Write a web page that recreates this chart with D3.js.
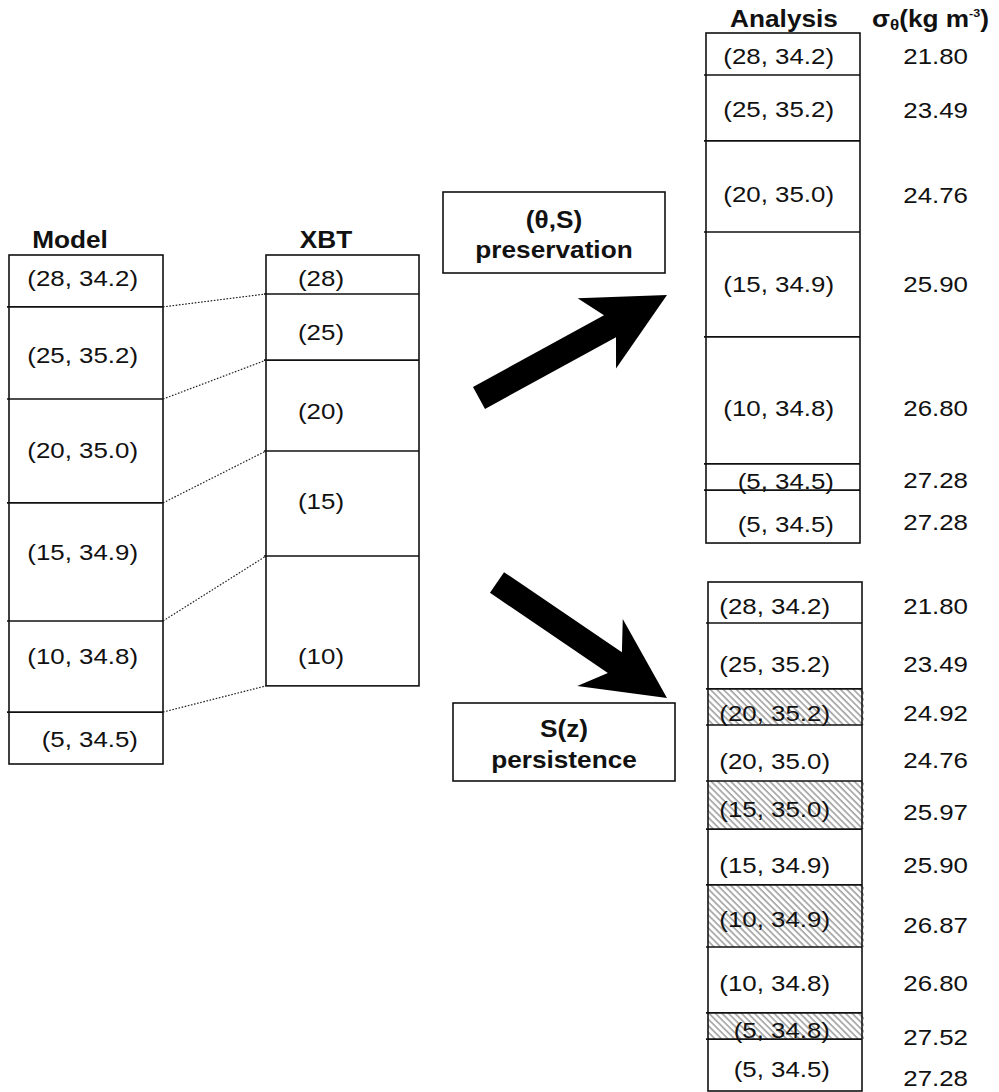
<!DOCTYPE html>
<html>
<head>
<meta charset="utf-8">
<script src="https://cdn.jsdelivr.net/npm/d3@7"></script>
<style>
  html, body { margin: 0; padding: 0; background: #fff; }
  svg { display: block; }
  text { font-family: "Liberation Sans", Arial, Helvetica, sans-serif; fill: #111; }
</style>
</head>
<body>
<svg id="chart" width="999" height="1092"></svg>
<script>
// ---------------- DATA ----------------
// Model layers: temperature (°C), salinity, layer boundaries (relative depth units, 0-200)
const modelT = [28, 25, 20, 15, 10, 5];
const modelS = ["34.2", "35.2", "35.0", "34.9", "34.8", "34.5"];
const modelDepth = [0, 20.4, 56.6, 97.4, 143.8, 179.6, 200];

// XBT layers: temperature only
const xbtT = [28, 25, 20, 15, 10];
const xbtDepth = [0, 15.3, 41.3, 77, 118.3, 169.3];

// Analysis, (theta,S) preservation
const presT = [28, 25, 20, 15, 10, 5, 5];
const presS = ["34.2", "35.2", "35.0", "34.9", "34.8", "34.5", "34.5"];
const presSigma = ["21.80", "23.49", "24.76", "25.90", "26.80", "27.28", "27.28"];
const presDepth = [0, 16.5, 42.4, 78.2, 119.4, 169.3, 179.6, 200.4];

// Analysis, S(z) persistence
const persT = [28, 25, 20, 20, 15, 15, 10, 10, 5, 5];
const persS = ["34.2", "35.2", "35.2", "35.0", "35.0", "34.9", "34.9", "34.8", "34.8", "34.5"];
const persSigma = ["21.80", "23.49", "24.92", "24.76", "25.97", "25.90", "26.87", "26.80", "27.52", "27.28"];
const persHatched = [false, false, true, false, true, false, true, false, true, false];
const persDepth = [0, 16.1, 42, 56.2, 78.2, 97.1, 119, 143.4, 169.3, 179.6, 200];

const headers = { model: "Model", xbt: "XBT", analysis: "Analysis" };
const boxTexts = { pres: ["(\u03B8,S)", "preservation"], pers: ["S(z)", "persistence"] };

// ---------------- LAYOUT ----------------
const FS = 22.5, SX = 1.15;     // regular text size and horizontal stretch
const FSB = 23, SXB = 1.14;     // bold text
const depth = d3.scaleLinear().domain([0, 200]).range([0, 509]);

const cols = {
  model: { x0: 9,   x1: 163, top: 255 },
  xbt:   { x0: 266, x1: 419, top: 255 },
  pres:  { x0: 706, x1: 860, top: 33 },
  pers:  { x0: 708, x1: 862, top: 582 }
};
const nudge = {
  model: [-3, 2, -1.5, -10.5, -11, 1],
  xbt: [3, 4.5, 5, -2.5, 34.5],
  pres: [2, 1, 7.5, -1, 8, 4, 7],
  presSig: [2, 1.5, 8.5, -1, 7.5, 3, 5.5],
  pers: [3.5, 8, 5.5, 7.5, 4, 8, 3, 2.5, 4, 4],
  persSig: [3.5, 8, 6, 7, 7, 8, 9, 3, 11, 13]
};
const sigmaRight = 968;

const svg = d3.select("#chart");

// hatch pattern
const defs = svg.append("defs");
const pat = defs.append("pattern")
  .attr("id", "hatch").attr("patternUnits", "userSpaceOnUse")
  .attr("width", 4.6).attr("height", 4.6)
  .attr("patternTransform", "rotate(-45)");
pat.append("rect").attr("width", 4.6).attr("height", 4.6).attr("fill", "#fff");
pat.append("line").attr("x1", 1).attr("y1", -1).attr("x2", 1).attr("y2", 6)
  .attr("stroke", "#9a9a9a").attr("stroke-width", 1.5);

function label(g, x, y, txt, anchor, bold) {
  const grp = g.append("g").attr("transform", `translate(${x},${y}) scale(${bold ? SXB : SX},1)`);
  grp.append("text")
    .attr("text-anchor", anchor)
    .attr("dy", bold ? 0 : "0.36em")
    .attr("font-size", bold ? FSB : FS)
    .attr("font-weight", bold ? "bold" : "normal")
    .text(txt);
  return grp;
}

function drawColumn(key, bounds, texts, opts) {
  const c = cols[key];
  const g = svg.append("g");
  const ys = bounds.map(d => c.top + depth(d));
  const cells = d3.range(bounds.length - 1).map(i => ({ i, y0: ys[i], y1: ys[i + 1] }));
  if (opts.hatched) {
    g.selectAll("rect.h").data(cells.filter(d => opts.hatched[d.i])).join("rect")
      .attr("x", c.x0).attr("y", d => d.y0).attr("width", c.x1 - c.x0 + 2).attr("height", d => d.y1 - d.y0)
      .attr("fill", "url(#hatch)");
  }
  g.selectAll("line.sep").data(ys.slice(1, -1)).join("line")
    .attr("x1", c.x0 - 2).attr("x2", c.x1).attr("y1", d => d).attr("y2", d => d)
    .attr("stroke", "#111").attr("stroke-width", 1.6);
  g.append("rect").attr("x", c.x0).attr("y", ys[0]).attr("width", c.x1 - c.x0)
    .attr("height", ys[ys.length - 1] - ys[0])
    .attr("fill", "none").attr("stroke", "#111").attr("stroke-width", 1.6);
  cells.forEach(d => {
    const yc = (d.y0 + d.y1) / 2;
    label(g, opts.tx, yc + opts.nudge[d.i], texts[d.i], opts.anchor, false);
    if (opts.sigma) label(g, sigmaRight, yc + opts.sigNudge[d.i], opts.sigma[d.i], "end", false);
  });
  return ys;
}

const modelYs = drawColumn("model", modelDepth, modelT.map((t, i) => `(${t}, ${modelS[i]})`),
  { tx: cols.model.x1 - 25, anchor: "end", nudge: nudge.model });
const xbtYs = drawColumn("xbt", xbtDepth, xbtT.map(t => `(${t})`),
  { tx: cols.xbt.x0 + 32, anchor: "start", nudge: nudge.xbt });
drawColumn("pres", presDepth, presT.map((t, i) => `(${t}, ${presS[i]})`),
  { tx: cols.pres.x1 - 26, anchor: "end", nudge: nudge.pres, sigma: presSigma, sigNudge: nudge.presSig });
drawColumn("pers", persDepth, persT.map((t, i) => `(${t}, ${persS[i]})`),
  { tx: cols.pers.x1 - 32, anchor: "end", nudge: nudge.pers, sigma: persSigma, sigNudge: nudge.persSig, hatched: persHatched });

// dotted connectors between model and XBT layer boundaries
svg.append("g").selectAll("line").data(d3.range(1, xbtYs.length)).join("line")
  .attr("x1", cols.model.x1).attr("y1", i => modelYs[i])
  .attr("x2", cols.xbt.x0).attr("y2", i => xbtYs[i])
  .attr("stroke", "#222").attr("stroke-width", 1.2).attr("stroke-dasharray", "1.6,1.6");

// headers
label(svg, 70, 248, headers.model, "middle", true);
label(svg, 326, 248, headers.xbt, "middle", true);
label(svg, 784, 27, headers.analysis, "middle", true);
// sigma-theta header
const sg = svg.append("g").attr("transform", `translate(872,27) scale(${SXB},1)`);
const st = sg.append("text").attr("font-weight", "bold").attr("font-size", FSB);
st.append("tspan").text("\u03C3");
st.append("tspan").attr("font-size", 15).attr("dy", 3).text("\u03B8");
st.append("tspan").attr("font-size", FSB).attr("dy", -3).text("(kg m");
st.append("tspan").attr("font-size", 11).attr("dy", -10).text("-3");
st.append("tspan").attr("font-size", FSB).attr("dy", 10).text(")");

// method boxes
function methodBox(x0, y0, x1, y1, lines, baselines) {
  const g = svg.append("g");
  g.append("rect").attr("x", x0).attr("y", y0).attr("width", x1 - x0).attr("height", y1 - y0)
    .attr("fill", "#fff").attr("stroke", "#111").attr("stroke-width", 1.6);
  lines.forEach((t, i) => label(g, (x0 + x1) / 2, baselines[i], t, "middle", true));
}
methodBox(443, 192, 665, 273, boxTexts.pres, [228, 258]);
methodBox(453, 703, 675, 781, boxTexts.pers, [737, 768]);

// block arrows
function arrow(x0, y0, x1, y1, sw, hw, hl, notch) {
  const L = Math.hypot(x1 - x0, y1 - y0);
  const ux = (x1 - x0) / L, uy = (y1 - y0) / L;
  const nx = -uy, ny = ux;
  const P = (a, b) => [x0 + ux * a + nx * b, y0 + uy * a + ny * b];
  const pts = [P(0, sw / 2), P(L - hl + notch, sw / 2), P(L - hl, hw / 2), [x1, y1],
               P(L - hl, -hw / 2), P(L - hl + notch, -sw / 2), P(0, -sw / 2)];
  svg.append("path").attr("d", d3.line()(pts) + "Z").attr("fill", "#000");
}
arrow(479, 398, 667, 295, 25, 80, 80, 15);
arrow(497, 582.5, 667, 698, 25, 81, 81, 18);
</script>
</body>
</html>
